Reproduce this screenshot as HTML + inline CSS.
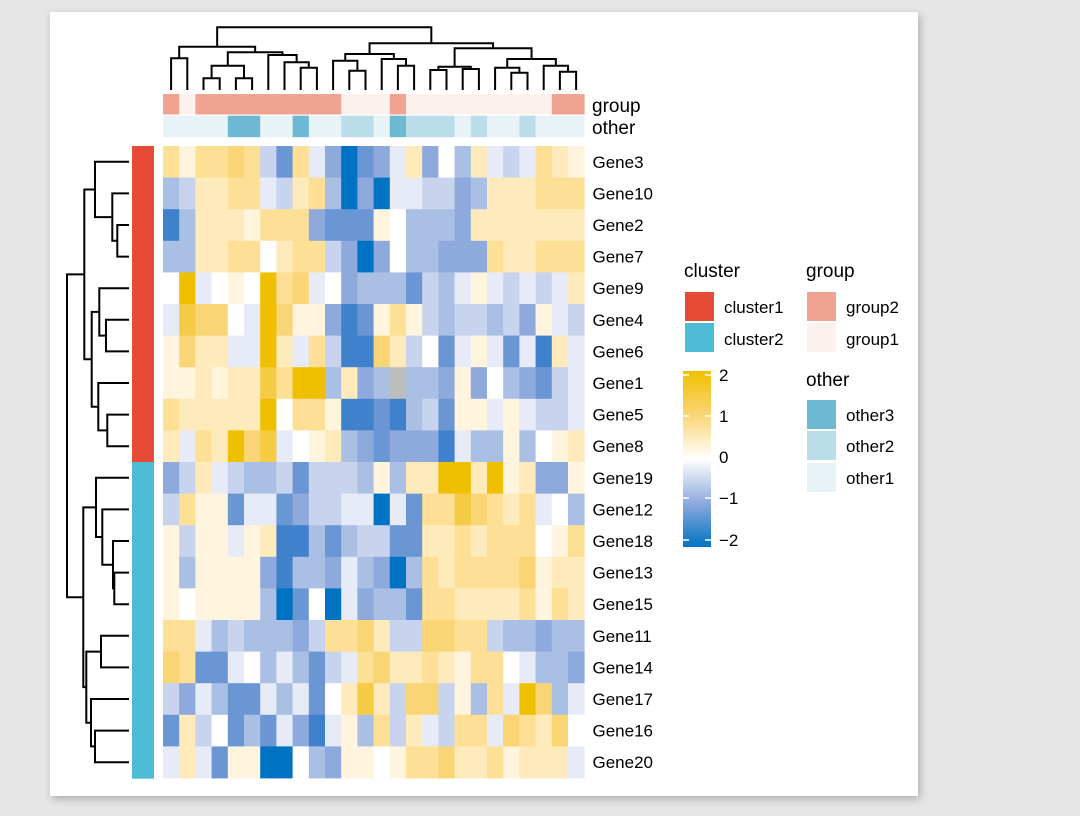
<!DOCTYPE html>
<html><head><meta charset="utf-8"><style>
body{margin:0;width:1080px;height:816px;background:#e6e6e6;overflow:hidden}
#panel{position:absolute;left:50px;top:12px;width:868px;height:784px;background:#fff;box-shadow:2px 3px 8px rgba(0,0,0,0.25)}
svg{position:absolute;left:0;top:0}
text{font-family:"Liberation Sans",Arial,sans-serif;fill:#000}
</style></head><body>
<div id="panel"></div>
<svg id="s" width="1080" height="816" xmlns="http://www.w3.org/2000/svg">
<defs><linearGradient id="cg" x1="0" y1="0" x2="0" y2="1">
<stop offset="0" stop-color="#efc000"/><stop offset="0.25" stop-color="#fad677"/><stop offset="0.5" stop-color="#ffffff"/><stop offset="0.75" stop-color="#8eaadd"/><stop offset="1" stop-color="#0073c2"/></linearGradient></defs>
</svg>
<script>
var s=document.getElementById('s');
function el(t,a,txt){var e=document.createElementNS('http://www.w3.org/2000/svg',t);for(var k in a)e.setAttribute(k,a[k]);if(txt!==undefined)e.textContent=txt;s.appendChild(e);return e;}
var pal={a:'#0072c3',b:'#3f82cb',c:'#6b96d4',d:'#8eaadd',e:'#aabfe4',f:'#c8d4ee',g:'#e6ebf7','0':'#ffffff','1':'#fff4dd','2':'#feeabb','3':'#fddf95','4':'#fad575','5':'#f5ca45','6':'#efc000',x:'#bdbdbd'};
var rows=[
["Gene3","313343fc3gdacdg2d0e2gfg321"],
["Gene10","ef2233gf23eadaggffde222333"],
["Gene2","be2221333dccc10eeed2222222"],
["Gene7","ee22330233fdad0eeddd322333"],
["Gene9","06g010634g0deeecfeg1gfgfg2"],
["Gene4","g5440g6411dbc131feffefd1gf"],
["Gene6","1422gg62g3fbb42f0cg1gcgb2g"],
["Gene1","1121225366e2dexeed1d0edcfg"],
["Gene5","32222260331bbcbefc11g1gffg"],
["Gene8","2g32645g012edcdddbgee1e012"],
["Gene19","df2gfeefcfffe1e22662612dd1"],
["Gene12","f311cggcdffggagc3354323g0e"],
["Gene18","1f11g12bbeceffcc2232333013"],
["Gene13","1e1111dbeedgedae3233334122"],
["Gene15","101111eac0agdeec3322223132"],
["Gene11","33gefeeedf3342ff4433feedee"],
["Gene14","43ccg0egecfg3422321330geed"],
["Gene17","fdgeccgegc0252f44f1e3g64eg"],
["Gene16","c2f0cecgdbg1e3f2gf33g43240"],
["Gene20","g2gc11aa0ed11013342231222g"]];
var X0=163,CW=16.2,Y0=146,RH=31.6;
rows.forEach(function(r,i){var v=r[1];
 for(var j=0;j<26;j++){var ch=v[j]||'0';el('rect',{x:X0+j*CW,y:Y0+i*RH,width:CW+0.4,height:RH+0.4,fill:pal[ch]||'#fff'});}
 el('text',{x:592.5,y:Y0+i*RH+RH/2+6,'font-size':17},r[0]);});
var grp="21222222222111211111111122";
var gc={'1':'#fdf1ee','2':'#f0a390'},oc={'1':'#e8f3f8','2':'#bbdde9','3':'#6db8d2'};
var oth2=["1","1","1","1","3","3","1","1","3","1","1","2","2","1","3","2","2","2","1","2","1","1","2","1","1","1"];
for(var j=0;j<26;j++){el('rect',{x:X0+j*CW,y:94,width:CW+0.4,height:20.5,fill:gc[grp[j]]});
 el('rect',{x:X0+j*CW,y:115.7,width:CW+0.4,height:21.5,fill:oc[oth2[j]]});}
el('text',{x:592,y:112,'font-size':19},'group');el('text',{x:592,y:134,'font-size':19},'other');
el('rect',{x:132,y:146,width:22,height:316,fill:'#e64b35'});
el('rect',{x:132,y:462,width:22,height:316.7,fill:'#4dbbd5'});
function P(d){el('path',{d:d,fill:'none',stroke:'#000','stroke-width':2});}
function leafY(i){return Y0+RH*(i+0.5);}
function L(i){return {y:leafY(i),x:129};}
function M(a,b,x){P('M'+a.x+','+a.y+'H'+x+'V'+b.y+'H'+b.x);return {x:x,y:(a.y+b.y)/2};}
var n23=M(L(2),L(3),117.3),n13=M(L(1),n23,112.3),n03=M(L(0),n13,95);
var n56=M(L(5),L(6),106),n46=M(L(4),n56,99.3);
var n89=M(L(8),L(9),107.3),n79=M(L(7),n89,98.3);
var n49=M(n46,n79,91.7),c1=M(n03,n49,84.3);
var n1314=M(L(13),L(14),114.3),n12=M(L(12),n1314,113),n11=M(L(11),n12,102.3),n10=M(L(10),n11,96);
var n1516=M(L(15),L(16),101),n1819=M(L(18),L(19),95),n17=M(L(17),n1819,91),n1519=M(n1516,n17,86.3);
var c2=M(n10,n1519,83.3);M(c1,c2,67);
function T(j){return {x:X0+CW*(j+0.5),y:90};}
function N(a,b,y){P('M'+a.x+','+a.y+'V'+y+'H'+b.x+'V'+b.y);return {x:(a.x+b.x)/2,y:y};}
var t01=N(T(0),T(1),58.3),t23=N(T(2),T(3),78.3),t45=N(T(4),T(5),78.3),t25=N(t23,t45,65.7);
var t89=N(T(8),T(9),67.7),t79=N(T(7),t89,62.3),t69=N(T(6),t79,55),t29=N(t25,t69,52.3),t09=N(t01,t29,46.7);
var t1112=N(T(11),T(12),70.7),t1012=N(T(10),t1112,60.7);
var t1415=N(T(14),T(15),65.7),t1315=N(T(13),t1415,59),t1015=N(t1012,t1315,54);
var t1617=N(T(16),T(17),70),t1819=N(T(18),T(19),69),t1619=N(t1617,t1819,66.7);
var t2122=N(T(21),T(22),72.7),t2022=N(T(20),t2122,67.7),t2425=N(T(24),T(25),71.7),t2325=N(T(23),t2425,65.7),t2025=N(t2022,t2325,59);
var t1625=N(t1619,t2025,48.3),t1025=N(t1015,t1625,43.3);N(t09,t1025,27.3);
el('text',{x:684,y:277,'font-size':19},'cluster');
el('rect',{x:685,y:292,width:29,height:29,fill:'#e64b35'});el('rect',{x:685,y:323,width:29,height:29,fill:'#4dbbd5'});
el('text',{x:724,y:313,'font-size':17},'cluster1');el('text',{x:724,y:345,'font-size':17},'cluster2');
el('text',{x:806,y:277,'font-size':19},'group');
el('rect',{x:807,y:292,width:29,height:29,fill:'#f0a390'});el('rect',{x:807,y:323,width:29,height:29,fill:'#fdf1ee'});
el('text',{x:846,y:313,'font-size':17},'group2');el('text',{x:846,y:345,'font-size':17},'group1');
el('text',{x:806,y:386,'font-size':19},'other');
el('rect',{x:807,y:400,width:29,height:29,fill:'#6db8d2'});el('rect',{x:807,y:431,width:29,height:29,fill:'#bbdde9'});el('rect',{x:807,y:463,width:29,height:29,fill:'#e8f3f8'});
el('text',{x:846,y:421,'font-size':17},'other3');el('text',{x:846,y:452,'font-size':17},'other2');el('text',{x:846,y:484,'font-size':17},'other1');
el('rect',{x:683,y:371,width:28,height:176,fill:'url(#cg)'});
var tk=[[375,'2'],[416,'1'],[457,'0'],[498,'\u22121'],[540,'\u22122']];
tk.forEach(function(t){el('line',{x1:683,x2:689,y1:t[0],y2:t[0],stroke:'#fff','stroke-width':1.5});el('line',{x1:705,x2:711,y1:t[0],y2:t[0],stroke:'#fff','stroke-width':1.5});el('text',{x:719,y:t[0]+6,'font-size':17},t[1]);});
</script>
</body></html>
